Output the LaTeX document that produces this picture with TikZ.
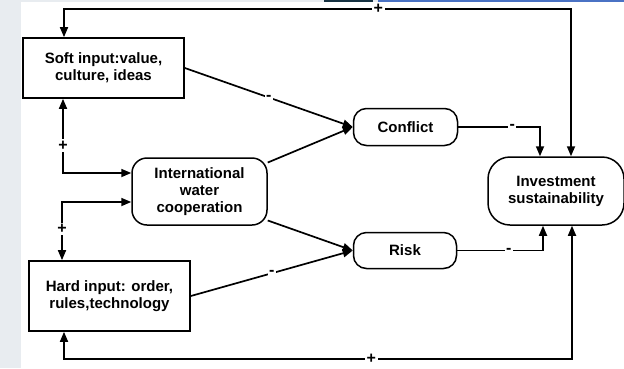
\documentclass[tikz,border=0pt]{standalone}
\usepackage{fontspec}
\setmainfont{Liberation Sans}
\usetikzlibrary{arrows.meta,positioning,calc}
\definecolor{sidegray}{RGB}{232,236,240}
\definecolor{barnavy}{RGB}{22,50,66}
\definecolor{barblue}{RGB}{74,114,196}
\tikzset{
    box/.style={draw, line width=1.7pt, minimum width=161pt, align=center, font=\fontsize{15}{17}\selectfont\bfseries},
    pill/.style={draw, line width=1.5pt, rounded corners=15pt, align=center, font=\fontsize{15}{17}\selectfont\bfseries},
    link/.style={-{Triangle[length=10pt, width=8pt]}, line width=1.7pt},
    twoway/.style={{Triangle[length=10pt, width=8pt]}-{Triangle[length=10pt, width=8pt]}, line width=1.7pt},
    sign/.style={fill=white, inner sep=1.5pt, font=\fontsize{16}{16}\selectfont\bfseries}
}

\begin{document}
\begin{tikzpicture}[x=1pt, y=1pt]
                    \useasboundingbox (0,0) rectangle (624,-368);
                    % page background
                    \fill[sidegray] (0,0) rectangle (624,-368);
                    \fill[white] (21,-2) rectangle (624,-368);
                    \fill[barnavy] (324,0) rectangle (373,-2);
                    \fill[barblue] (378,0) rectangle (624,-2);
                    % nodes
                    \node[box, minimum height=60pt] (soft) at (103.5,-68) {Soft input:value,\\culture, ideas};
                    \node[box, minimum height=70pt] (hard) at (109.5,-296) {Hard input: order,\\rules,technology};
                    \node[pill, minimum width=135pt, minimum height=67pt] (iwc) at (199.5,-191.5) {International\\water\\cooperation};
                    \node[pill, rounded corners=13pt, minimum width=104pt, minimum height=37pt, above right=11pt and 85pt of iwc] (conflict) {Conflict};
                    \node[pill, rounded corners=13pt, minimum width=103pt, minimum height=36pt, below right=6pt and 85pt of iwc] (risk) {Risk};
                    \node[pill, rounded corners=22pt, minimum width=136pt, minimum height=68pt, below right=10pt and 29pt of conflict] (invest) {Investment\\sustainability};
                    % feedback corners
                    \coordinate (topL) at (64,-9);
                    \coordinate (topR) at (571,-9);
                    \coordinate (botL) at (64,-359);
                    \coordinate (botR) at (572,-359);
                    \coordinate (softJ) at (63,-173);
                    \coordinate (hardJ) at (62,-202);
                    % connectors
                    \draw[twoway] (soft.north -| topL) -- (topL) -- node[sign, pos=0.62] {+} (topR) -- (invest.north -| topR);
                    \draw[twoway] (hard.south -| botL) -- (botL) -- node[sign, pos=0.605] {+} (botR) -- (invest.south -| botR);
                    \draw[twoway] (soft.south -| softJ) -- node[sign, pos=0.63] {+} (softJ) -- (softJ -| iwc.west);
                    \draw[twoway] (hard.north -| hardJ) -- node[sign, pos=0.54] {+} (hardJ) -- (hardJ -| iwc.west);
                    \draw[link] (soft.east) -- node[sign] {-} (conflict.west);
                    \draw[link] (iwc.23) -- (conflict.west);
                    \draw[link] (iwc.-23) -- (risk.west);
                    \draw[link] (hard.east) -- node[sign] {-} (risk.west);
                    \draw[link] (conflict.east) -| node[sign, pos=0.33] {-} ([xshift=-16pt]invest.north);
                    \draw[link] (risk.east) -| node[sign, pos=0.3] {-} ([xshift=-13pt]invest.south);
                \end{tikzpicture}
\end{document}
